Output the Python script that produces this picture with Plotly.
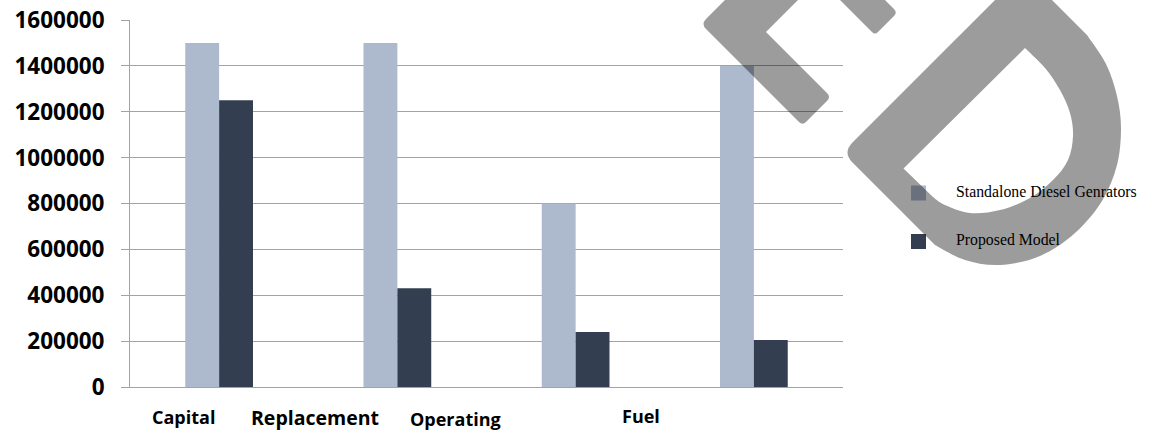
import plotly.graph_objects as go

# ---- data ----
categories = ["Capital", "Replacement", "Operating", "Fuel"]
standalone = [1500000, 1500000, 800000, 1400000]
proposed = [1250000, 430000, 240000, 205000]
series_names = ["Standalone Diesel Genrators", "Proposed Model"]
y_tickvals = [0, 200000, 400000, 600000, 800000, 1000000, 1200000, 1400000, 1600000]
y_ticktext = ["0", "200000", "400000", "600000", "800000", "1000000", "1200000", "1400000", "1600000"]

W, H = 1152, 432
LIGHT = "#adb9cc"
DARK = "#333f50"
GRID = "#a3a3a3"


def px(x, y):
    return x / W, 1 - y / H


fig = go.Figure()
fig.add_trace(go.Bar(x=categories, y=standalone, name=series_names[0],
                     marker=dict(color=LIGHT, line=dict(width=0)), showlegend=False))
fig.add_trace(go.Bar(x=categories, y=proposed, name=series_names[1],
                     marker=dict(color=DARK, line=dict(width=0)), showlegend=False))

x0, x1 = 130, 843
y_top, y_zero = 20, 387

fig.update_layout(
    width=W, height=H,
    margin=dict(l=0, r=0, t=0, b=0, autoexpand=False),
    paper_bgcolor="white", plot_bgcolor="white",
    barmode="group", bargap=0.62, bargroupgap=0,
    xaxis=dict(domain=[x0 / W, x1 / W], showticklabels=False, ticks="",
               showline=True, linecolor=GRID, linewidth=1, showgrid=False),
    yaxis=dict(domain=[1 - y_zero / H, 1 - y_top / H], range=[0, 1600000],
               tickvals=y_tickvals, ticktext=y_ticktext,
               showgrid=True, gridcolor=GRID, gridwidth=1,
               zeroline=False, showline=True, linecolor=GRID, linewidth=1,
               ticks="outside", ticklen=8, tickcolor=GRID, tickwidth=1,
               ticklabelstandoff=12, automargin=False,
               tickfont=dict(family="Open Sans", size=22.5, color="black", weight="bold")),
    font=dict(family="Open Sans", color="black"),
)

# category labels (offset below the axis, as in the original)
label_shift = [-36, -82, -120, -113]
label_y = [417, 417, 419, 416]
label_size = [18, 19.5, 18, 18]
for cat, dx, ly, fs in zip(categories, label_shift, label_y, label_size):
    fig.add_annotation(x=cat, xref="x", y=1 - ly / H, yref="paper", xshift=dx,
                       text=cat, showarrow=False, xanchor="center", yanchor="middle",
                       font=dict(family="Open Sans", size=fs, color="black", weight="bold"))

# legend (manual)
leg_colors = [LIGHT, DARK]
leg_y = [193, 241.5]
for name, col, ly in zip(series_names, leg_colors, leg_y):
    ax0, ay0 = px(911, ly - 7.5)
    ax1, ay1 = px(926, ly + 7.5)
    fig.add_shape(type="rect", xref="paper", yref="paper", x0=ax0, x1=ax1, y0=ay1, y1=ay0,
                  fillcolor=col, line=dict(width=0), layer="above")
    tx, ty = px(954, ly - 2)
    fig.add_annotation(x=tx, y=ty, xref="paper", yref="paper", text=name, showarrow=False,
                       xanchor="left", yanchor="middle",
                       font=dict(family="Liberation Serif", size=15.8, color="black"))


# ---- watermark (decorative overlay) ----
def smooth(points):
    """Catmull-Rom through pixel points -> SVG cubic segments in paper coords."""
    segs = []
    n = len(points)
    for i in range(n - 1):
        p0 = points[i - 1] if i > 0 else points[i]
        p1 = points[i]
        p2 = points[i + 1]
        p3 = points[i + 2] if i + 2 < n else points[i + 1]
        c1 = (p1[0] + (p2[0] - p0[0]) / 6, p1[1] + (p2[1] - p0[1]) / 6)
        c2 = (p2[0] - (p3[0] - p1[0]) / 6, p2[1] - (p3[1] - p1[1]) / 6)
        a, b, c = px(*c1), px(*c2), px(*p2)
        segs.append(f"C{a[0]:.5f},{a[1]:.5f} {b[0]:.5f},{b[1]:.5f} {c[0]:.5f},{c[1]:.5f}")
    return " ".join(segs)


def P(x, y):
    a = px(x, y)
    return f"{a[0]:.5f},{a[1]:.5f}"


L_piece = (f"M{P(725,0)} L{P(706,19)} Q{P(701,24)} {P(706,29)} L{P(799,122)} "
           f"Q{P(802.5,125.5)} {P(806,122)} L{P(827,101)} Q{P(831,97)} {P(827,93)} "
           f"L{P(766,32)} L{P(798,0)} Z")
bar_piece = (f"M{P(840,0)} L{P(872,32)} Q{P(875,35)} {P(878,32)} L{P(894,16)} "
             f"Q{P(897.5,12.5)} {P(894,9)} L{P(885,0)} Z")

outer_curve = [(935, 245), (965, 260), (1000, 265), (1040, 256), (1075, 233), (1102, 201),
               (1117, 165), (1121, 128), (1117, 96), (1106, 64), (1087, 35)]
inner_curve = [(1025, 48), (1045, 68), (1060, 90), (1070, 113), (1073, 136), (1068, 160),
               (1053, 180), (1030, 198), (1000, 210), (970, 213), (945, 205), (933, 197)]
D_piece = (f"M{P(995,0)} L{P(852,143)} Q{P(843,152.5)} {P(852,162)} L{P(935,245)} "
           + smooth(outer_curve) + f" L{P(1052,0)} Z "
           + f"M{P(903.5,168.5)} L{P(1025,48)} " + smooth(inner_curve) + " Z")

for path in (L_piece, bar_piece, D_piece):
    fig.add_shape(type="path", path=path, xref="paper", yref="paper",
                  fillcolor="rgba(0,0,0,0.39)", line=dict(width=0), layer="above")

fig.write_html("out.html")
